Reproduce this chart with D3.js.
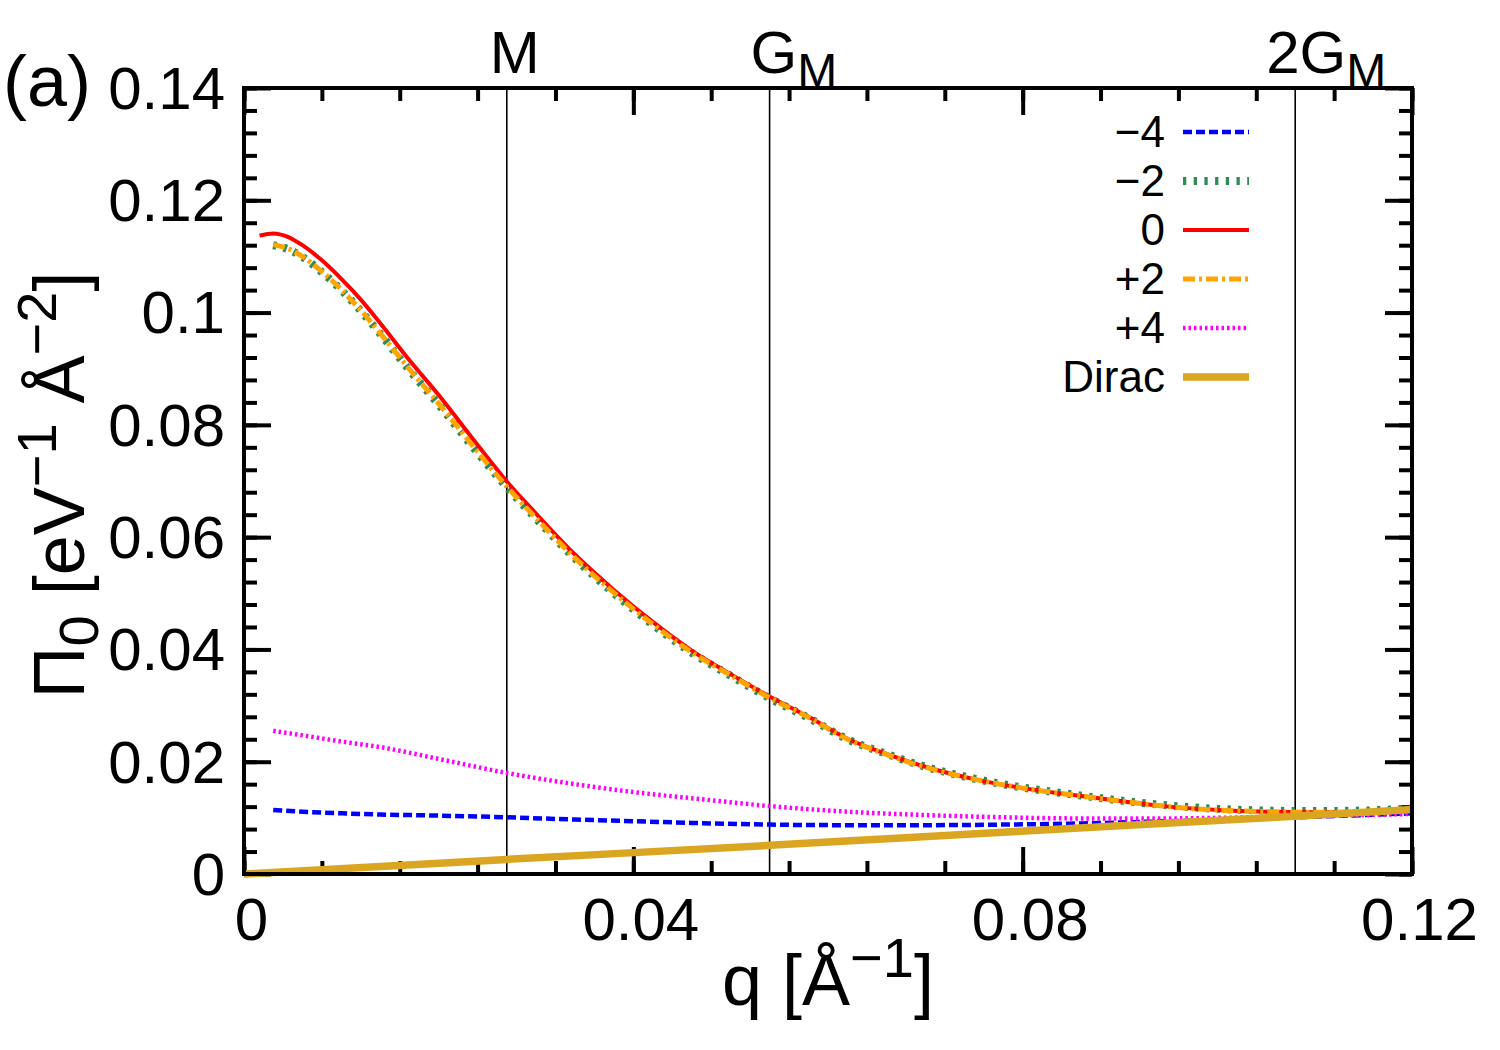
<!DOCTYPE html>
<html>
<head>
<meta charset="utf-8">
<script src="https://cdn.jsdelivr.net/npm/d3@7"></script>
<style>
  body { margin: 0; background: #fff; }
  text { font-family: "Liberation Sans", Arial, sans-serif; fill: #000; }
</style>
</head>
<body>
<svg width="1500" height="1050"></svg>
<script>
// q grids [1/Å] and Π0 values [eV^-1 Å^-2]
const qMain = [0.0016, 0.003, 0.0045, 0.006, 0.008, 0.010, 0.012, 0.014, 0.017, 0.020, 0.024, 0.027, 0.030, 0.034, 0.038, 0.042, 0.046, 0.050, 0.054, 0.058, 0.062, 0.066, 0.070, 0.075, 0.080, 0.085, 0.090, 0.095, 0.100, 0.105, 0.110, 0.115, 0.120];
const pi0 = [0.1137, 0.1141, 0.1135, 0.1120, 0.1093, 0.1060, 0.1023, 0.0981, 0.0915, 0.0853, 0.0764, 0.0699, 0.0642, 0.0569, 0.0506, 0.0449, 0.0398, 0.0356, 0.0316, 0.0280, 0.0241, 0.0214, 0.0191, 0.0169, 0.0153, 0.0141, 0.0130, 0.0120, 0.0114, 0.0111, 0.0110, 0.0111, 0.0115];

const qSide = [0.003, 0.0045, 0.006, 0.008, 0.010, 0.012, 0.014, 0.017, 0.020, 0.024, 0.027, 0.030, 0.034, 0.038, 0.042, 0.046, 0.050, 0.054, 0.058, 0.062, 0.066, 0.070, 0.075, 0.080, 0.085, 0.090, 0.095, 0.100, 0.105, 0.110, 0.115, 0.120];
const piM2 = [0.1120, 0.1113, 0.1099, 0.1072, 0.1040, 0.1003, 0.0962, 0.0897, 0.0836, 0.0750, 0.0689, 0.0633, 0.0562, 0.0500, 0.0444, 0.0394, 0.0353, 0.0313, 0.0278, 0.0240, 0.0214, 0.0191, 0.0170, 0.0154, 0.0142, 0.0131, 0.0122, 0.0116, 0.0113, 0.0112, 0.0113, 0.0117];
const piP2 = [0.1121, 0.1114, 0.1100, 0.1073, 0.1041, 0.1004, 0.0963, 0.0899, 0.0838, 0.0752, 0.0690, 0.0634, 0.0563, 0.0501, 0.0445, 0.0395, 0.0354, 0.0314, 0.0279, 0.0240, 0.0213, 0.0190, 0.0169, 0.0153, 0.0141, 0.0130, 0.0120, 0.0114, 0.0111, 0.0110, 0.0111, 0.0115];

const qLow = [0.003, 0.006, 0.010, 0.014, 0.020, 0.027, 0.034, 0.040, 0.046, 0.054, 0.062, 0.070, 0.078, 0.086, 0.095, 0.100, 0.108, 0.115, 0.120];
const piM4 = [0.0114, 0.0111, 0.0108, 0.0106, 0.0104, 0.0101, 0.0097, 0.0094, 0.0091, 0.0088, 0.0087, 0.0087, 0.0088, 0.0090, 0.0094, 0.0096, 0.0101, 0.0105, 0.0108];
const piP4 = [0.0255, 0.0247, 0.0236, 0.0226, 0.0205, 0.0180, 0.0160, 0.0146, 0.0135, 0.0121, 0.0111, 0.0105, 0.0101, 0.0099, 0.0099, 0.0100, 0.0102, 0.0105, 0.0107];

const qDirac = [0, 0.027, 0.054, 0.0775, 0.108, 0.120];
const piDirac = [0, 0.0026, 0.0051, 0.0074, 0.0103, 0.0115];

const xMajor = [0, 0.04, 0.08, 0.12];
const yMajor = [0, 0.02, 0.04, 0.06, 0.08, 0.1, 0.12, 0.14];
const xMinor = d3.range(0, 0.1201, 0.008);
const yMinor = d3.range(0, 0.1401, 0.004);

// special points (vertical lines)
const marks = [
  {q: 0.027, main: 'M', sub: ''},
  {q: 0.054, main: 'G', sub: 'M'},
  {q: 0.108, main: '2G', sub: 'M'}
];

const svg = d3.select('svg');
const margin = {top: 88, right: 88, bottom: 176, left: 244};
const width = +svg.attr('width');
const height = +svg.attr('height');
const innerWidth = width - margin.left - margin.right;
const innerHeight = height - margin.top - margin.bottom;

const xScale = d3.scaleLinear().domain([0, 0.12]).range([0, innerWidth]);
const yScale = d3.scaleLinear().domain([0, 0.14]).range([innerHeight, 0]);

const g = svg.append('g')
  .attr('transform', `translate(${margin.left},${margin.top})`);

// minor + major ticks on all four sides
const tickAxis = (axis, scale, vals, size, transform, fmt) => {
  const a = axis(scale).tickValues(vals).tickSize(-size).tickPadding(23)
    .tickFormat(fmt || '');
  const ag = g.append('g').attr('transform', transform || null).call(a);
  ag.select('.domain').remove();
  ag.selectAll('.tick line').attr('stroke', '#000').attr('stroke-width', 4);
  if (!fmt) ag.selectAll('.tick text').remove();
  return ag;
};
tickAxis(d3.axisBottom, xScale, xMinor, 13, `translate(0,${innerHeight})`);
tickAxis(d3.axisTop, xScale, xMinor, 13);
tickAxis(d3.axisLeft, yScale, yMinor, 13);
tickAxis(d3.axisRight, yScale, yMinor, 13, `translate(${innerWidth},0)`);
tickAxis(d3.axisTop, xScale, xMajor, 27);
tickAxis(d3.axisRight, yScale, yMajor, 27, `translate(${innerWidth},0)`);

const fmt = d => d === 0 ? '0' : d3.format('')(+d.toFixed(2));
const xAxisG = tickAxis(d3.axisBottom, xScale, xMajor, 27, `translate(0,${innerHeight})`, fmt);
xAxisG.selectAll('.tick text').attr('font-size', 60).attr('dx', 7);
const yAxisG = tickAxis(d3.axisLeft, yScale, yMajor, 27, null, fmt);
yAxisG.selectAll('.tick text').attr('font-size', 60).attr('x', -19).attr('dy', '0.34em');

// vertical lines
g.selectAll('.vline').data(marks).join('line')
  .attr('x1', d => xScale(d.q)).attr('x2', d => xScale(d.q))
  .attr('y1', 0).attr('y2', innerHeight)
  .attr('stroke', '#000').attr('stroke-width', 1.6);

const markOffset = {M: -17, G: -19, '2G': -29};
marks.forEach(d => {
  const t = g.append('text')
    .attr('x', xScale(d.q) + markOffset[d.main])
    .attr('y', -15)
    .attr('font-size', 60)
    .text(d.main);
  if (d.sub) {
    t.append('tspan').attr('font-size', 48).attr('dy', 14).text(d.sub);
  }
});

// curves
const series = [
  {label: '\u22124', q: qLow, v: piM4, color: '#0000ff', w: 4.5, dash: '9,4'},
  {label: '\u22122', q: qSide, v: piM2, color: '#2e8b57', w: 8, dash: '3.3,7.4'},
  {label: '0', q: qMain, v: pi0, color: '#ff0000', w: 4, dash: null},
  {label: '+2', q: qSide, v: piP2, color: '#ffa500', w: 5, dash: '12,4,3,4'},
  {label: '+4', q: qLow, v: piP4, color: '#ff00ff', w: 4.5, dash: '2.5,3'},
  {label: 'Dirac', q: qDirac, v: piDirac, color: '#daa520', w: 7.5, dash: null}
];

const line = d3.line()
  .x(d => xScale(d[0]))
  .y(d => yScale(d[1]))
  .curve(d3.curveMonotoneX);

series.forEach(s => {
  g.append('path')
    .attr('d', line(s.q.map((q, i) => [q, s.v[i]])))
    .attr('fill', 'none')
    .attr('stroke', s.color)
    .attr('stroke-width', s.w)
    .attr('stroke-dasharray', s.dash);
});

// frame
g.append('rect')
  .attr('width', innerWidth).attr('height', innerHeight)
  .attr('fill', 'none').attr('stroke', '#000').attr('stroke-width', 4);

// legend
const legend = g.append('g').attr('transform', 'translate(921,44)');
series.forEach((s, i) => {
  const row = legend.append('g').attr('transform', `translate(0,${i * 49})`);
  row.append('text')
    .attr('x', 0).attr('y', 0).attr('dy', '0.35em')
    .attr('text-anchor', 'end').attr('font-size', 44)
    .text(s.label);
  row.append('line')
    .attr('x1', 18).attr('x2', 84).attr('y1', 0).attr('y2', 0)
    .attr('stroke', s.color)
    .attr('stroke-width', s.w)
    .attr('stroke-dasharray', s.dash);
});

// axis titles
const yTitle = svg.append('text')
  .attr('transform', 'translate(84,485) rotate(-90)')
  .attr('text-anchor', 'middle')
  .attr('font-size', 72);
yTitle.append('tspan').text('\u03a0');
yTitle.append('tspan').attr('font-size', 56).attr('dy', 14).text('0');
yTitle.append('tspan').attr('dy', -14).text('  [eV');
yTitle.append('tspan').attr('font-size', 56).attr('dy', -28).text('\u22121');
yTitle.append('tspan').attr('dy', 28).text(' \u00c5');
yTitle.append('tspan').attr('font-size', 56).attr('dy', -28).text('\u22122');
yTitle.append('tspan').attr('dy', 28).text(']');

const xTitle = svg.append('text')
  .attr('x', 828).attr('y', 1005)
  .attr('text-anchor', 'middle')
  .attr('font-size', 72);
xTitle.append('tspan').text('q [\u00c5');
xTitle.append('tspan').attr('font-size', 56).attr('dy', -28).text('\u22121');
xTitle.append('tspan').attr('dy', 28).text(']');

svg.append('text')
  .attr('x', 3).attr('y', 106)
  .attr('font-size', 72)
  .text('(a)');
</script>
</body>
</html>
